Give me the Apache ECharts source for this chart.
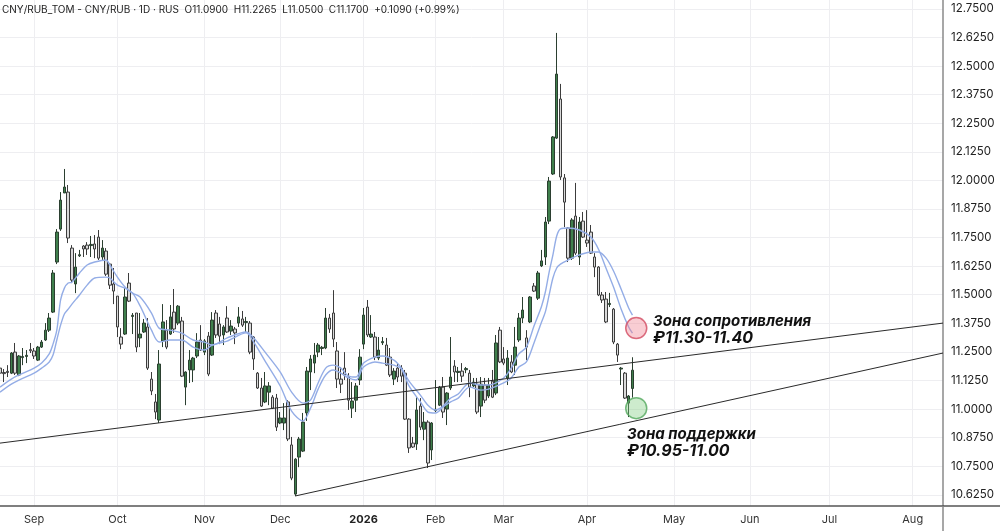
<!DOCTYPE html>
<html>
<head>
<meta charset="utf-8">
<style>html,body{margin:0;padding:0;background:#fff}#chart{width:1000px;height:531px}</style>
<script src="https://cdn.jsdelivr.net/npm/echarts@6/dist/echarts.min.js"></script>
</head>
<body>
<div id="chart"></div>
<script>
var barCount = 250;
var monthBars = [9, 31, 54, 74, 96, 115, 133, 155, 178, 198, 219, 241];
var monthNames = ['Sep', 'Oct', 'Nov', 'Dec', '2026', 'Feb', 'Mar', 'Apr', 'May', 'Jun', 'Jul', 'Aug'];
var priceTicks = [10.625, 10.75, 10.875, 11, 11.125, 11.25, 11.375, 11.5, 11.625, 11.75, 11.875, 12, 12.125, 12.25, 12.375, 12.5, 12.625, 12.75];

var opens = [11.179,11.16,11.165,11.157,11.249,11.149,11.225,11.23,11.26,11.254,
11.214,11.271,11.302,11.345,11.424,11.643,11.787,11.945,11.949,11.704,
11.547,11.67,11.713,11.717,11.715,11.722,11.752,11.665,11.691,11.634,
11.547,11.494,11.315,11.328,11.551,11.405,11.42,11.311,11.337,11.359,
11.131,11.031,10.952,11.298,11.345,11.328,11.424,11.376,11.385,11.096,
11.171,11.171,11.232,11.302,11.249,11.319,11.236,11.42,11.372,11.324,
11.398,11.341,11.35,11.376,11.394,11.378,11.376,11.315,11.157,11.092,
11.031,11.074,11.052,11.048,10.939,10.939,11.031,10.843,10.628,10.79,
10.816,10.983,11.162,11.201,11.249,11.265,11.267,11.398,11.42,11.254,
11.131,11.179,11.14,11.004,11.039,11.127,11.284,11.446,11.315,11.315,
11.223,11.29,11.28,11.227,11.131,11.179,11.179,11.157,10.956,10.851,
10.847,11.013,10.912,10.943,10.821,10.993,11.017,11.096,11.0,11.092,
11.188,11.16,11.166,11.172,11.157,11.101,11.109,11.013,11.105,11.057,
11.122,11.07,11.345,11.219,11.136,11.206,11.192,11.302,11.398,11.311,
11.381,11.538,11.485,11.626,11.665,11.822,12.028,12.185,12.356,12.011,
11.792,11.66,11.844,11.665,11.822,11.739,11.774,11.665,11.621,11.499,
11.481,11.457,11.437,11.284,11.175,11.157,11.026,11.09];

var closes = [11.157,11.155,11.16,11.245,11.157,11.232,11.23,11.235,11.255,11.232,
11.271,11.293,11.345,11.398,11.595,11.774,11.914,11.971,11.748,11.564,
11.621,11.675,11.70,11.70,11.72,11.70,11.66,11.704,11.59,11.542,
11.516,11.359,11.284,11.49,11.472,11.41,11.271,11.328,11.376,11.179,
11.079,10.987,11.197,11.381,11.271,11.403,11.35,11.45,11.144,11.162,
11.214,11.223,11.293,11.258,11.298,11.153,11.389,11.324,11.319,11.359,
11.337,11.363,11.333,11.403,11.367,11.383,11.249,11.219,11.092,11.013,
11.101,11.101,11.004,10.921,10.961,10.961,10.869,10.698,10.781,10.869,
10.943,11.166,11.219,11.236,11.28,11.27,11.398,11.35,11.306,11.131,
11.109,11.149,11.039,11.035,11.101,11.227,11.411,11.324,11.328,11.227,
11.258,11.295,11.192,11.149,11.166,11.14,11.144,10.956,10.83,10.834,
10.996,10.921,10.943,10.764,10.939,10.999,11.096,10.987,11.07,11.14,
11.162,11.165,11.144,11.177,11.096,11.118,10.987,11.109,11.039,11.105,
11.052,11.289,11.206,11.201,11.223,11.162,11.271,11.398,11.433,11.271,
11.49,11.516,11.595,11.648,11.818,11.997,12.19,12.465,12.015,11.905,
11.66,11.827,11.682,11.818,11.752,11.726,11.682,11.621,11.499,11.477,
11.381,11.462,11.293,11.236,11.179,11.048,11.057,11.17];

var lows = [11.144,11.118,11.14,11.153,11.149,11.144,11.192,11.201,11.245,11.219,
11.21,11.267,11.298,11.337,11.42,11.634,11.779,11.945,11.726,11.551,
11.507,11.665,11.665,11.674,11.665,11.66,11.652,11.652,11.582,11.525,
11.459,11.315,11.262,11.324,11.468,11.328,11.249,11.271,11.333,11.171,
11.061,10.956,10.939,11.271,11.262,11.324,11.333,11.367,11.14,11.017,
11.114,11.118,11.223,11.254,11.236,11.144,11.232,11.311,11.284,11.28,
11.333,11.324,11.284,11.359,11.359,11.337,11.24,11.171,11.088,11.009,
11.026,11.017,11.0,10.904,10.934,10.908,10.86,10.689,10.619,10.746,
10.812,10.948,11.083,11.157,11.227,11.236,11.262,11.333,11.271,11.092,
11.07,11.127,10.996,10.961,10.987,11.105,11.262,11.315,11.311,11.214,
11.214,11.28,11.188,11.14,11.105,11.118,11.118,10.952,10.808,10.83,
10.821,10.908,10.864,10.742,10.777,10.987,11.013,10.961,10.93,11.083,
11.118,11.118,11.118,11.157,11.052,11.096,10.978,10.965,11.026,11.048,
11.048,11.061,11.201,11.192,11.105,11.157,11.149,11.293,11.376,11.214,
11.376,11.512,11.477,11.621,11.63,11.809,12.024,12.181,12.002,11.796,
11.643,11.652,11.674,11.63,11.748,11.709,11.678,11.577,11.494,11.464,
11.376,11.446,11.284,11.206,11.105,11.044,10.965,11.05];

var highs = [11.179,11.175,11.192,11.249,11.289,11.236,11.267,11.258,11.289,11.267,
11.276,11.302,11.376,11.42,11.608,11.787,11.949,12.05,11.98,11.717,
11.682,11.696,11.717,11.73,11.757,11.761,11.783,11.739,11.704,11.639,
11.617,11.494,11.354,11.529,11.595,11.42,11.42,11.42,11.394,11.398,
11.162,11.066,11.258,11.459,11.389,11.455,11.525,11.455,11.403,11.165,
11.258,11.228,11.332,11.367,11.306,11.337,11.424,11.433,11.403,11.367,
11.45,11.389,11.359,11.446,11.429,11.403,11.385,11.319,11.162,11.136,
11.162,11.118,11.061,11.066,10.987,11.026,11.039,10.878,10.785,10.878,
10.983,11.184,11.236,11.289,11.289,11.276,11.442,11.416,11.52,11.293,
11.184,11.249,11.157,11.118,11.114,11.262,11.442,11.477,11.411,11.337,
11.315,11.315,11.311,11.267,11.179,11.201,11.192,11.171,10.96,10.878,
11.052,11.048,10.987,10.951,10.943,11.127,11.101,11.14,11.074,11.315,
11.214,11.184,11.201,11.184,11.171,11.136,11.136,11.14,11.136,11.136,
11.171,11.324,11.359,11.271,11.258,11.236,11.359,11.42,11.49,11.345,
11.494,11.551,11.604,11.696,11.84,12.015,12.194,12.645,12.422,12.028,
11.796,11.835,11.989,11.84,11.862,11.87,11.805,11.682,11.625,11.512,
11.512,11.508,11.442,11.289,11.184,11.162,11.061,11.2265];

var maBars = [0,3,5,9,11,13,14,15,16,17,18,19,21,23,25,28,29,31,33,35,37,40,42,45,48,51,54,56,60,65,67,70,74,77,80,82,84,86,88,90,92,94,96,99,101,104,106,108,111,113,115,117,119,121,124,127,129,133,135,137,139,141,143,144,145,146,147,148,150,153,156,158,160,162,164,166,167];
var maFast = [11.096,11.131,11.149,11.179,11.201,11.241,11.284,11.345,11.477,11.529,11.551,11.555,11.595,11.63,11.643,11.652,11.63,11.577,11.534,11.507,11.49,11.42,11.354,11.345,11.332,11.302,11.293,11.28,11.311,11.337,11.311,11.249,11.162,11.074,11.026,11.039,11.114,11.179,11.192,11.179,11.144,11.14,11.201,11.227,11.232,11.214,11.179,11.122,11.061,11.017,10.996,11.013,11.048,11.066,11.114,11.105,11.105,11.136,11.179,11.241,11.271,11.363,11.45,11.512,11.599,11.674,11.757,11.788,11.792,11.783,11.752,11.70,11.617,11.534,11.438,11.359,11.332];
var maSlow = [11.074,11.109,11.127,11.157,11.179,11.206,11.236,11.302,11.367,11.416,11.437,11.459,11.499,11.542,11.573,11.577,11.573,11.542,11.529,11.507,11.451,11.345,11.293,11.302,11.302,11.271,11.258,11.28,11.297,11.333,11.293,11.21,11.101,10.991,10.948,11.004,11.087,11.149,11.171,11.157,11.136,11.127,11.184,11.206,11.201,11.192,11.175,11.101,11.031,10.987,10.983,11.009,11.031,11.048,11.096,11.083,11.087,11.114,11.136,11.184,11.206,11.289,11.381,11.425,11.499,11.573,11.617,11.634,11.652,11.674,11.687,11.687,11.661,11.604,11.525,11.442,11.411];

var upperTrendBars = [0, 249];
var upperTrendPrices = [10.851, 11.376];
var lowerTrendBars = [78, 249];
var lowerTrendPrices = [10.62, 11.245];
var zoneBar = 168;
var resistancePrice = 11.354;
var supportPrice = 11.004;

var categories = [];
for (var i = 0; i < barCount; i++) categories.push(String(i));

var candles = opens.map(function (o, i) {
    return [o, closes[i], lows[i], highs[i]];
});
function pairs(bars, values) {
    return bars.map(function (b, i) { return [b, values[i]]; });
}
function isMonthBar(i) { return monthBars.indexOf(i) >= 0; }
var uiFont = 'Inter, "Liberation Sans", sans-serif';

var chart = echarts.init(document.getElementById('chart'), null, {renderer: 'canvas'});
var maLine = {color: '#94ade6', width: 1.4};
var trendLine = {color: '#2a2a2a', width: 1};

function zoneText(x, y, title, range) {
    return [
        {type: 'text', left: x, top: y, z: 50, style: {text: title, fill: '#111', font: 'italic bold 15px ' + uiFont}},
        {type: 'text', left: x, top: y + 16, z: 50, style: {text: range, fill: '#111', font: 'italic bold 16px ' + uiFont}}
    ];
}

chart.setOption({
    animation: false,
    backgroundColor: '#ffffff',
    grid: {left: 0, top: 0, width: 943, height: 506},
    xAxis: {
        type: 'category',
        data: categories,
        boundaryGap: false,
        axisLine: {lineStyle: {color: '#555', width: 1.5}},
        axisTick: {show: false},
        axisLabel: {
            interval: function (i) { return isMonthBar(i); },
            formatter: function (v, i) {
                var name = monthNames[monthBars.indexOf(i)];
                return name === '2026' ? '{b|2026}' : name;
            },
            rich: {b: {fontWeight: 'bold', fontSize: 11, color: '#222', fontFamily: uiFont}},
            color: '#333', fontSize: 11, fontFamily: uiFont, margin: 8, hideOverlap: false
        },
        splitLine: {show: true, interval: function (i) { return isMonthBar(i); }, lineStyle: {color: '#eeeef1', width: 1}}
    },
    yAxis: {
        type: 'value',
        position: 'right',
        min: 10.576,
        max: 12.789,
        axisLine: {show: true, lineStyle: {color: '#8a8a8a', width: 1.5}},
        axisTick: {show: false, customValues: priceTicks},
        axisLabel: {
            customValues: priceTicks,
            formatter: function (v) { return v.toFixed(4); },
            color: '#222', fontSize: 11.5, fontFamily: uiFont, margin: 8
        },
        splitLine: {show: true, lineStyle: {color: '#eeeef1', width: 1}}
    },
    series: [
        {
            type: 'candlestick',
            data: candles,
            barWidth: 3,
            itemStyle: {color: '#3f7f4c', color0: '#d9d9d9', borderColor: '#2b3f30', borderColor0: '#3c3c3c', borderWidth: 1}
        },
        {type: 'line', data: pairs(maBars, maFast), smooth: 0.3, showSymbol: false, lineStyle: maLine, itemStyle: {color: '#94ade6'}},
        {type: 'line', data: pairs(maBars, maSlow), smooth: 0.3, showSymbol: false, lineStyle: maLine, itemStyle: {color: '#94ade6'}},
        {type: 'line', data: pairs(upperTrendBars, upperTrendPrices), showSymbol: false, lineStyle: trendLine, itemStyle: {color: '#2a2a2a'}},
        {type: 'line', data: pairs(lowerTrendBars, lowerTrendPrices), showSymbol: false, lineStyle: trendLine, itemStyle: {color: '#2a2a2a'}},
        {
            type: 'scatter', z: 10, symbolSize: 21,
            data: [[zoneBar, resistancePrice]],
            itemStyle: {color: 'rgba(240,130,145,0.5)', borderColor: '#d24a60', borderWidth: 1.5}
        },
        {
            type: 'scatter', z: 10, symbolSize: 21,
            data: [[zoneBar, supportPrice]],
            itemStyle: {color: 'rgba(130,205,130,0.5)', borderColor: '#52a85c', borderWidth: 1.5}
        }
    ],
    graphic: [
        {type: 'line', z: 40, shape: {x1: 943, y1: 506, x2: 1000, y2: 506}, style: {stroke: '#555', lineWidth: 1.5}},
        {type: 'line', z: 40, shape: {x1: 943, y1: 506, x2: 943, y2: 531}, style: {stroke: '#8a8a8a', lineWidth: 1.5}},
        {type: 'text', left: 2, top: 5, z: 50, style: {
            text: 'CNY/RUB_TOM - CNY/RUB · 1D · RUS  O11.0900  H11.2265  L11.0500  C11.1700  +0.1090 (+0.99%)',
            fill: '#222', font: '10px ' + uiFont
        }}
    ].concat(
        zoneText(653, 314, 'Зона сопротивления', '₽11.30-11.40'),
        zoneText(627, 427, 'Зона поддержки', '₽10.95-11.00')
    )
});
</script>
</body>
</html>
